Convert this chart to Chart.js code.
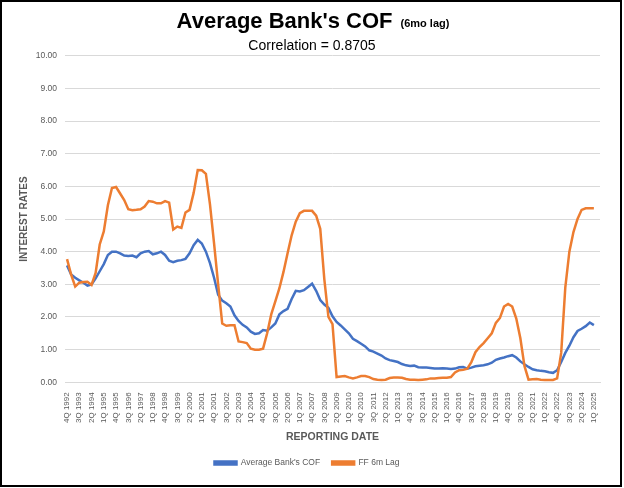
<!DOCTYPE html>
<html>
<head>
<meta charset="utf-8">
<script src="https://cdn.jsdelivr.net/npm/chart.js@4.4.1/dist/chart.umd.min.js"></script>
<style>
  html, body { margin: 0; padding: 0; background: #fff; }
</style>
</head>
<body>
<canvas id="cof-chart" width="624" height="488"></canvas>
<script>
const chartTitle = "Average Bank's COF";
const titleNote = '(6mo lag)';
const subtitle = 'Correlation = 0.8705';

// quarterly categories, last one is the empty slot Excel leaves at the end
const quarters = [
    '4Q 1992',
    '1Q 1993', '2Q 1993', '3Q 1993', '4Q 1993',
    '1Q 1994', '2Q 1994', '3Q 1994', '4Q 1994',
    '1Q 1995', '2Q 1995', '3Q 1995', '4Q 1995',
    '1Q 1996', '2Q 1996', '3Q 1996', '4Q 1996',
    '1Q 1997', '2Q 1997', '3Q 1997', '4Q 1997',
    '1Q 1998', '2Q 1998', '3Q 1998', '4Q 1998',
    '1Q 1999', '2Q 1999', '3Q 1999', '4Q 1999',
    '1Q 2000', '2Q 2000', '3Q 2000', '4Q 2000',
    '1Q 2001', '2Q 2001', '3Q 2001', '4Q 2001',
    '1Q 2002', '2Q 2002', '3Q 2002', '4Q 2002',
    '1Q 2003', '2Q 2003', '3Q 2003', '4Q 2003',
    '1Q 2004', '2Q 2004', '3Q 2004', '4Q 2004',
    '1Q 2005', '2Q 2005', '3Q 2005', '4Q 2005',
    '1Q 2006', '2Q 2006', '3Q 2006', '4Q 2006',
    '1Q 2007', '2Q 2007', '3Q 2007', '4Q 2007',
    '1Q 2008', '2Q 2008', '3Q 2008', '4Q 2008',
    '1Q 2009', '2Q 2009', '3Q 2009', '4Q 2009',
    '1Q 2010', '2Q 2010', '3Q 2010', '4Q 2010',
    '1Q 2011', '2Q 2011', '3Q 2011', '4Q 2011',
    '1Q 2012', '2Q 2012', '3Q 2012', '4Q 2012',
    '1Q 2013', '2Q 2013', '3Q 2013', '4Q 2013',
    '1Q 2014', '2Q 2014', '3Q 2014', '4Q 2014',
    '1Q 2015', '2Q 2015', '3Q 2015', '4Q 2015',
    '1Q 2016', '2Q 2016', '3Q 2016', '4Q 2016',
    '1Q 2017', '2Q 2017', '3Q 2017', '4Q 2017',
    '1Q 2018', '2Q 2018', '3Q 2018', '4Q 2018',
    '1Q 2019', '2Q 2019', '3Q 2019', '4Q 2019',
    '1Q 2020', '2Q 2020', '3Q 2020', '4Q 2020',
    '1Q 2021', '2Q 2021', '3Q 2021', '4Q 2021',
    '1Q 2022', '2Q 2022', '3Q 2022', '4Q 2022',
    '1Q 2023', '2Q 2023', '3Q 2023', '4Q 2023',
    '1Q 2024', '2Q 2024', '3Q 2024', '4Q 2024',
    '1Q 2025', '2Q 2025'
];

const cofValues = [
    3.58,
    3.30, 3.20, 3.12, 3.05,
    2.96, 3.00, 3.18, 3.40,
    3.62, 3.90, 4.00, 4.00,
    3.95, 3.88, 3.87, 3.88,
    3.83, 3.95, 4.00, 4.02,
    3.92, 3.95, 4.00, 3.90,
    3.72, 3.68, 3.72, 3.74,
    3.78, 3.95, 4.20, 4.36,
    4.25, 4.00, 3.65, 3.20,
    2.68, 2.50, 2.42, 2.32,
    2.05, 1.88, 1.76, 1.68,
    1.55, 1.48, 1.50, 1.60,
    1.58, 1.68, 1.80, 2.08,
    2.18, 2.25, 2.55, 2.80,
    2.78, 2.82, 2.92, 3.02,
    2.80, 2.52, 2.38, 2.28,
    2.02, 1.85, 1.74, 1.62,
    1.50, 1.33, 1.26, 1.18,
    1.10, 0.98, 0.94, 0.88,
    0.82, 0.73, 0.68, 0.65,
    0.62, 0.56, 0.52, 0.50,
    0.51, 0.46, 0.45, 0.45,
    0.44, 0.42, 0.42, 0.43,
    0.42, 0.41, 0.42, 0.46,
    0.47, 0.42, 0.45, 0.49,
    0.51, 0.52, 0.55, 0.60,
    0.69, 0.73, 0.76, 0.80,
    0.83, 0.76, 0.64, 0.55,
    0.47, 0.40, 0.37, 0.35,
    0.34, 0.31, 0.29, 0.37,
    0.62, 0.90, 1.12, 1.38,
    1.57, 1.64, 1.72, 1.83,
    1.75, null
];

const ffLagValues = [
    3.77,
    3.30, 2.93, 3.05, 3.07,
    3.08, 2.98, 3.35, 4.22,
    4.62, 5.42, 5.95, 5.98,
    5.78, 5.58, 5.30, 5.27,
    5.28, 5.30, 5.38, 5.55,
    5.53, 5.48, 5.48, 5.55,
    5.50, 4.68, 4.77, 4.73,
    5.20, 5.28, 5.80, 6.50,
    6.49, 6.38, 5.45, 4.25,
    3.00, 1.80, 1.73, 1.75,
    1.75, 1.25, 1.23, 1.20,
    1.03, 1.00, 1.00, 1.03,
    1.50, 2.08, 2.48, 2.88,
    3.38, 3.95, 4.50, 4.92,
    5.18, 5.25, 5.25, 5.25,
    5.10, 4.70, 3.15, 2.00,
    1.78, 0.16, 0.18, 0.19,
    0.15, 0.12, 0.15, 0.19,
    0.19, 0.16, 0.10, 0.08,
    0.07, 0.08, 0.13, 0.15,
    0.15, 0.14, 0.10, 0.08,
    0.08, 0.07, 0.08, 0.09,
    0.12, 0.12, 0.13, 0.14,
    0.14, 0.16, 0.30, 0.37,
    0.38, 0.42, 0.62, 0.92,
    1.08, 1.20, 1.35, 1.50,
    1.82, 1.97, 2.32, 2.40,
    2.32, 1.95, 1.35, 0.50,
    0.08, 0.09, 0.10, 0.08,
    0.07, 0.07, 0.07, 0.12,
    0.90, 2.90, 4.00, 4.60,
    5.00, 5.28, 5.33, 5.33,
    5.33, null
];

const FONT = '"Liberation Sans", Arial, sans-serif';
const GREY = '#595959';

// title, subtitle and the black frame are drawn straight on the canvas
const titleAndFrame = {
    id: 'titleAndFrame',
    beforeDraw(chart) {
        const ctx = chart.ctx;
        ctx.save();
        ctx.fillStyle = '#fff';
        ctx.fillRect(0, 0, chart.width, chart.height);
        ctx.restore();
    },
    afterDraw(chart) {
        const ctx = chart.ctx;
        ctx.save();
        ctx.fillStyle = '#000';
        ctx.textBaseline = 'alphabetic';
        ctx.textAlign = 'left';
        ctx.font = 'bold 22px ' + FONT;
        const w1 = ctx.measureText(chartTitle).width;
        ctx.font = 'bold 11px ' + FONT;
        const w2 = ctx.measureText(titleNote).width;
        const gap = 8;
        const x0 = 313 - (w1 + gap + w2) / 2;
        ctx.font = 'bold 22px ' + FONT;
        ctx.fillText(chartTitle, x0, 28);
        ctx.font = 'bold 11px ' + FONT;
        ctx.fillText(titleNote, x0 + w1 + gap, 27);

        ctx.font = '14px ' + FONT;
        ctx.textAlign = 'center';
        ctx.fillText(subtitle, 312, 50);

        ctx.lineWidth = 2;
        ctx.strokeStyle = '#000';
        ctx.strokeRect(1, 1, 620, 485);
        ctx.restore();
    }
};

const data = {
    labels: quarters,
    datasets: [{
        label: "Average Bank's COF",
        data: cofValues,
        borderColor: '#4472C4',
        backgroundColor: '#4472C4',
        borderWidth: 2.5,
        pointRadius: 0,
        tension: 0,
        order: 1
    }, {
        label: 'FF 6m Lag',
        data: ffLagValues,
        borderColor: '#ED7D31',
        backgroundColor: '#ED7D31',
        borderWidth: 2.5,
        pointRadius: 0,
        tension: 0,
        order: 0
    }]
};

const config = {
    type: 'line',
    data: data,
    options: {
        responsive: false,
        animation: false,
        devicePixelRatio: 1,
        layout: {
            padding: { left: 14, top: 55.7, right: 24, bottom: 10.75 }
        },
        plugins: {
            title: { display: false },
            tooltip: { enabled: false },
            legend: {
                position: 'bottom',
                labels: {
                    boxWidth: 22,
                    boxHeight: 3,
                    padding: 12,
                    color: GREY,
                    font: { family: FONT, size: 8.5 },
                    sort: (a, b) => a.datasetIndex - b.datasetIndex
                }
            }
        },
        scales: {
            x: {
                offset: true,
                grid: { display: false, drawTicks: false },
                border: { display: true, color: '#d9d9d9' },
                ticks: {
                    autoSkip: false,
                    minRotation: 90,
                    maxRotation: 90,
                    padding: 10,
                    color: GREY,
                    font: { family: FONT, size: 8 },
                    callback: function (val, idx) {
                        return idx % 3 === 0 ? quarters[idx] : null;
                    }
                },
                title: {
                    display: true,
                    text: 'REPORTING DATE',
                    color: GREY,
                    font: { family: FONT, size: 10.5, weight: 'bold' },
                    padding: { top: 0, bottom: 3.5 }
                },
                afterFit: function (scale) { scale.height = 64.45; }
            },
            y: {
                min: 0,
                max: 10,
                grid: { color: '#d9d9d9', drawTicks: false },
                border: { display: false },
                ticks: {
                    stepSize: 1,
                    padding: 8,
                    color: GREY,
                    font: { family: FONT, size: 8.5 },
                    callback: function (value) { return value.toFixed(2); }
                },
                title: {
                    display: true,
                    text: 'INTEREST RATES',
                    color: GREY,
                    font: { family: FONT, size: 10, weight: 'bold' },
                    padding: { top: 4.7, bottom: 0 }
                },
                afterFit: function (scale) { scale.width = 51; }
            }
        }
    },
    plugins: [titleAndFrame]
};

const ctx = document.getElementById('cof-chart').getContext('2d');
new Chart(ctx, config);
</script>
</body>
</html>
